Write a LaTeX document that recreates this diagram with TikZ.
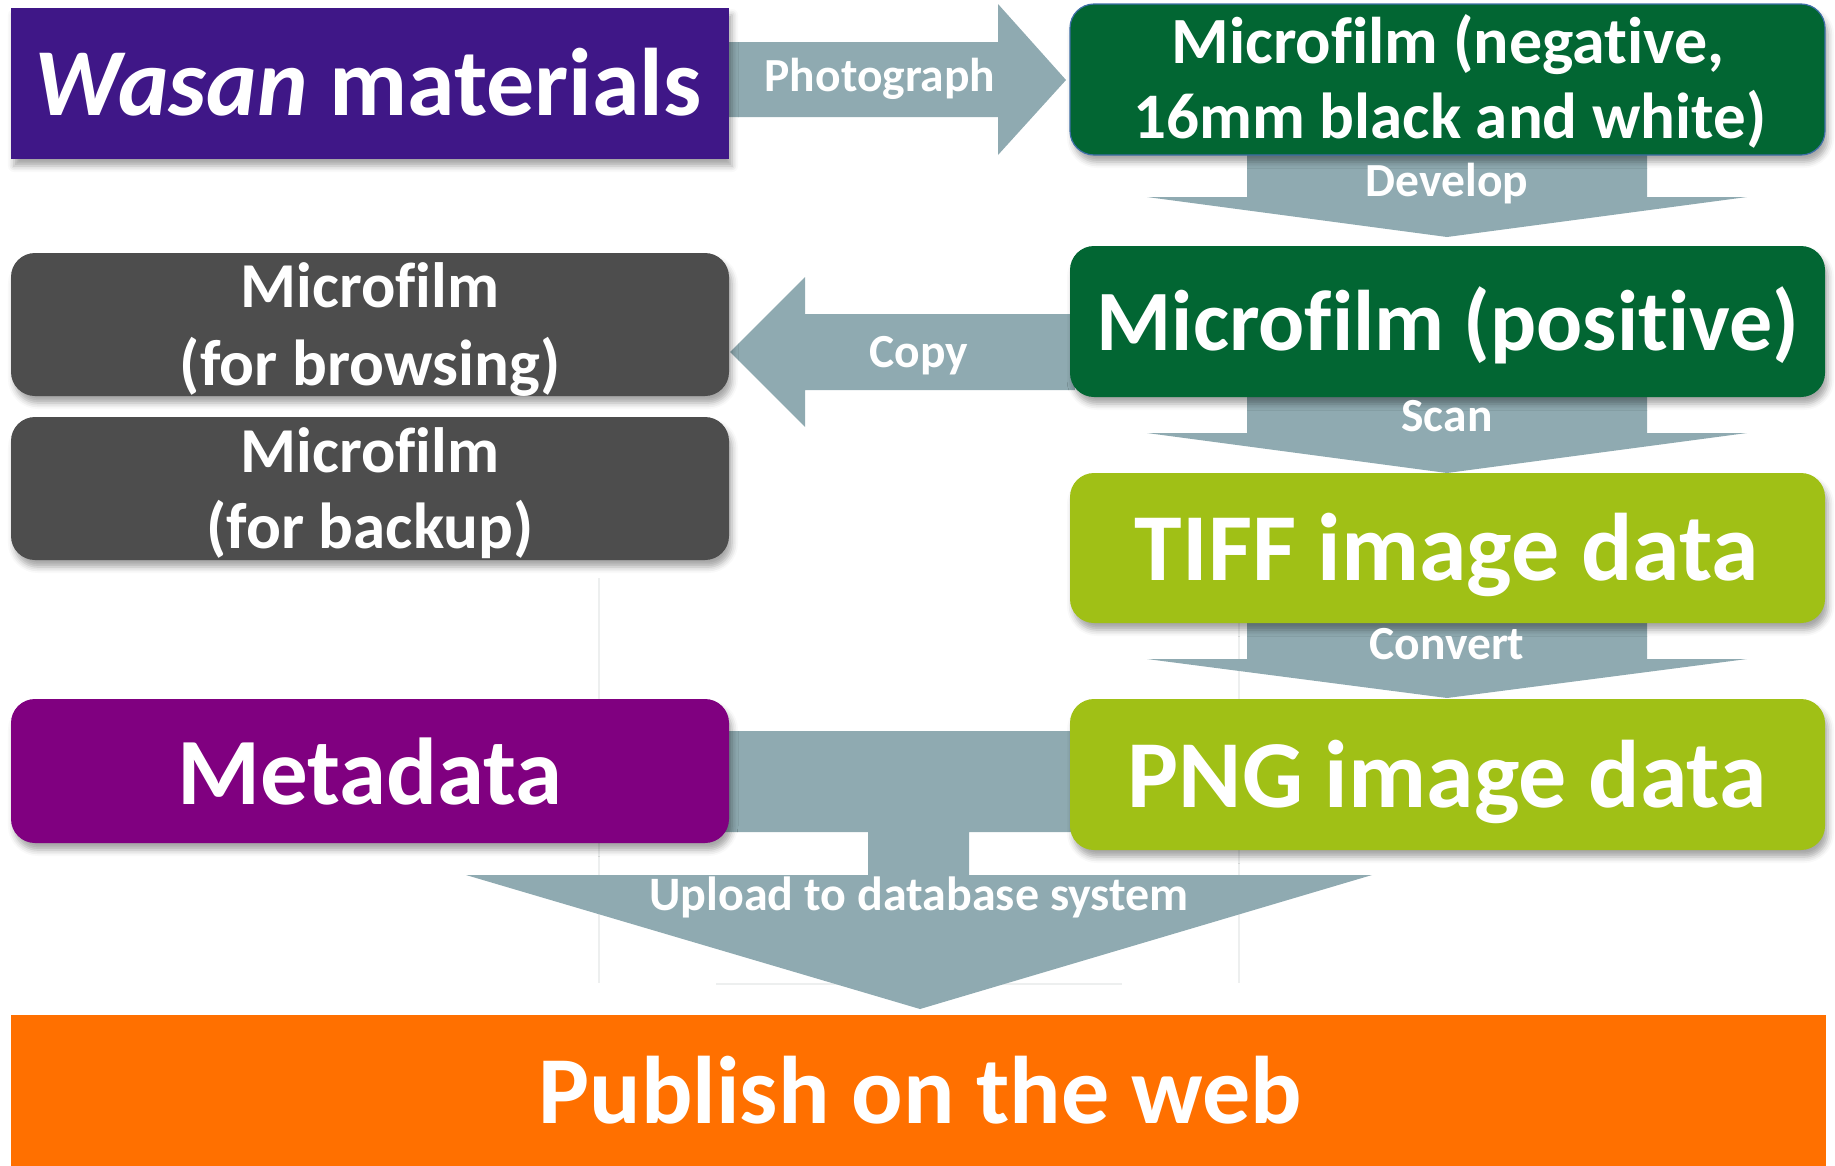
\documentclass[tikz,border=0pt]{standalone}
\usepackage{fontspec}
\setmainfont{Carlito}[Ligatures=NoCommon]
\usetikzlibrary{shadows.blur,backgrounds}
\definecolor{wpurple}{HTML}{3F1787}
\definecolor{dgreen}{HTML}{026633}
\definecolor{lgreen}{HTML}{A0C016}
\definecolor{dgray}{HTML}{4D4D4D}
\definecolor{mpurple}{HTML}{800080}
\definecolor{arrowc}{HTML}{8FAAB1}
\definecolor{orangec}{HTML}{FF7000}
\definecolor{edgeblue}{HTML}{3F6FA8}
\definecolor{faint}{HTML}{EDEFEF}
\begin{document}
\begin{tikzpicture}[x=1pt,y=-1pt,
  boxs/.style={inner sep=0pt, outer sep=0pt, anchor=north west,
    blur shadow={shadow xshift=3pt, shadow yshift=-7pt, shadow blur radius=6pt, shadow opacity=35}},
  rbox/.style={boxs, rounded corners=24pt},
  txt/.style={anchor=base, text=white, inner sep=0pt},
  lbl/.style={txt, font=\bfseries\fontsize{47.5}{50}\selectfont},
  arr/.style={fill=arrowc}]
\useasboundingbox (0,0) rectangle (1835,1165);

% boxes
\node[boxs, fill=wpurple, minimum width=718pt, minimum height=151pt] (wasan) at (11,8) {};
\node[rbox, fill=dgreen, draw=edgeblue, line width=1.2pt, minimum width=755pt, minimum height=151pt] (neg) at (1070,4) {};
\node[rbox, fill=dgreen, minimum width=755pt, minimum height=151pt] (pos) at (1070,246) {};
\node[rbox, fill=lgreen, minimum width=755pt, minimum height=150pt] (tiff) at (1070,473) {};
\node[rbox, fill=lgreen, minimum width=755pt, minimum height=151pt] (png) at (1070,699) {};
\node[rbox, fill=dgray, minimum width=718pt, minimum height=143pt] (browse) at (11,253) {};
\node[rbox, fill=dgray, minimum width=718pt, minimum height=143pt] (backup) at (11,417) {};
\node[rbox, fill=mpurple, minimum width=718pt, minimum height=144pt] (meta) at (11,699) {};
\node[inner sep=0pt, outer sep=0pt, anchor=north west, fill=orangec, minimum width=1815pt, minimum height=155pt] (pub) at (11,1015) {};

% arrows behind boxes
\begin{scope}[on background layer]
\draw[faint, line width=1.5pt] (599,578) -- (599,983);
\draw[faint, line width=1.5pt] (1239,578) -- (1239,983);
\draw[faint, line width=2pt] (716,984) -- (1122,984);
\fill[arr] (729,42) -- (998,42) -- (998,4) -- (1066,80) -- (998,155) -- (998,117) -- (729,117) -- cycle;
\fill[arr] (1247,150) -- (1647,150) -- (1647,197) -- (1747,197) -- (1447,237) -- (1147,197) -- (1247,197) -- cycle;
\fill[arr] (1247,390) -- (1647,390) -- (1647,433) -- (1747,433) -- (1447,473) -- (1147,433) -- (1247,433) -- cycle;
\fill[arr] (1247,615) -- (1647,615) -- (1647,659) -- (1747,659) -- (1447,698) -- (1147,659) -- (1247,659) -- cycle;
\fill[arr] (1075,314) -- (805,314) -- (805,277) -- (730,352) -- (805,427) -- (805,390) -- (1075,390) -- cycle;
\fill[arr] (720,731) -- (1080,731) -- (1080,832) -- (969,832) -- (969,875) -- (1372,875) -- (920,1009) -- (466,875) -- (868,875) -- (868,832) -- (720,832) -- cycle;
\end{scope}

% texts
\node[txt, font=\bfseries\fontsize{96}{100}\selectfont] (twasan) at (368,115) {\itshape Wasan\/\upshape{} materials};
\node[txt, font=\bfseries\fontsize{66}{75}\selectfont] (tneg1) at (1448,63) {Microfilm (negative,};
\node[txt, font=\bfseries\fontsize{65}{75}\selectfont] (tneg2) at (1450,138) {16mm black and white)};
\node[txt, font=\bfseries\fontsize{86}{95}\selectfont] (tpos) at (1448,350) {Microfilm (positive)};
\node[txt, font=\bfseries\fontsize{96}{100}\selectfont] (ttiff) at (1447,580) {TIFF image data};
\node[txt, font=\bfseries\fontsize{96}{100}\selectfont] (tpng) at (1447,807) {PNG image data};
\node[txt, font=\bfseries\fontsize{64}{70}\selectfont] (tbr1) at (370,307) {Microfilm};
\node[txt, font=\bfseries\fontsize{65}{70}\selectfont] (tbr2) at (370,385) {(for browsing)};
\node[txt, font=\bfseries\fontsize{64}{70}\selectfont] (tbk1) at (370,472) {Microfilm};
\node[txt, font=\bfseries\fontsize{65}{70}\selectfont] (tbk2) at (370,548) {(for backup)};
\node[txt, font=\bfseries\fontsize{95}{100}\selectfont] (tmeta) at (370,804) {Metadata};
\node[txt, font=\bfseries\fontsize{96}{100}\selectfont] (tpub) at (920,1123) {Publish on the web};

\node[lbl] (lphoto) at (880,91) {Photograph};
\node[lbl] (ldev) at (1447,196) {Develop};
\node[lbl] (lscan) at (1447,431) {Scan};
\node[lbl] (lconv) at (1447,659) {Convert};
\node[lbl] (lcopy) at (919,367) {Copy};
\node[lbl, font=\bfseries\fontsize{48}{50}\selectfont] (lup) at (919,910) {Upload to database system};
\end{tikzpicture}
\end{document}
